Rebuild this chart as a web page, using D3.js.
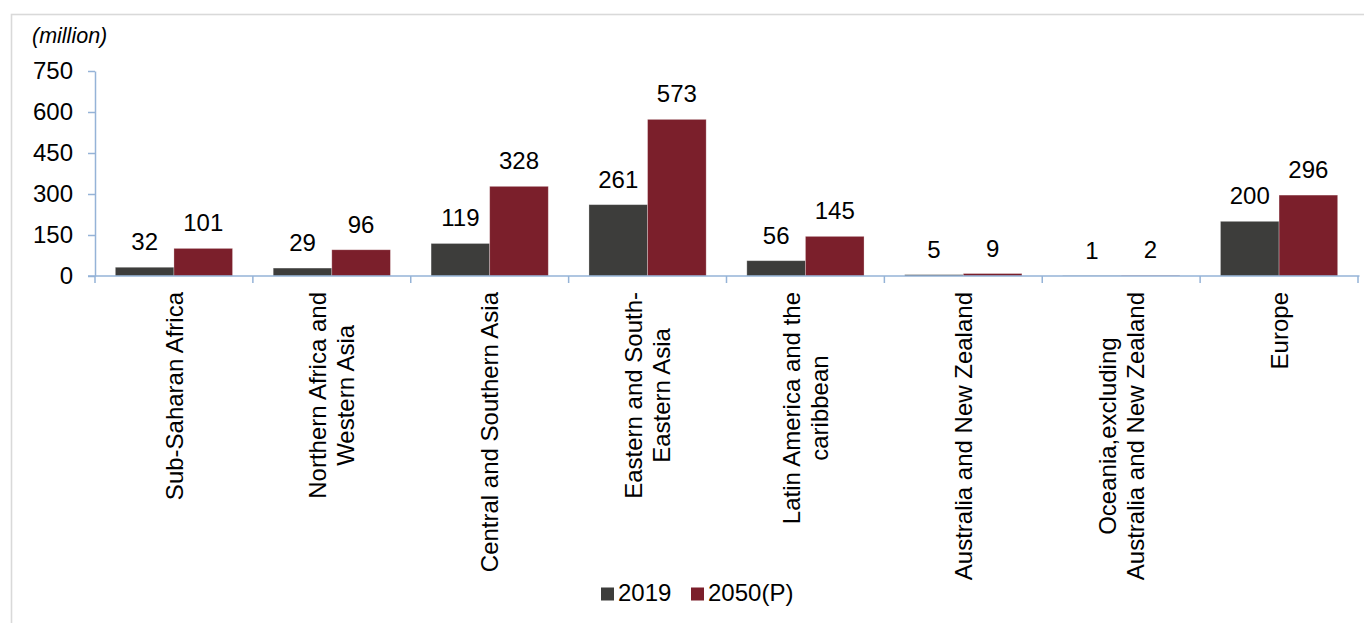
<!DOCTYPE html>
<html>
<head>
<meta charset="utf-8">
<script src="https://cdn.jsdelivr.net/npm/d3@7"></script>
<style>
  html, body { margin: 0; padding: 0; background: #fff; }
  svg { display: block; font-family: "Liberation Sans", Arial, sans-serif; }
</style>
</head>
<body>
<svg id="chart" width="1364" height="623"></svg>
<script>
// Population aged 65+ by region (million)
const regions = [
  ["Sub-Saharan Africa"],
  ["Northern Africa and", "Western Asia"],
  ["Central and Southern Asia"],
  ["Eastern and South-", "Eastern Asia"],
  ["Latin America and the", "caribbean"],
  ["Australia and New Zealand"],
  ["Oceania,excluding", "Australia and New Zealand"],
  ["Europe"]
];
const seriesNames = ["2019", "2050(P)"];
const values2019 = [32, 29, 119, 261, 56, 5, 1, 200];
const values2050 = [101, 96, 328, 573, 145, 9, 2, 296];
const yTicks = [0, 150, 300, 450, 600, 750];
const colors = ["#3d3d3b", "#7b1f2b"];

const svg = d3.select("#chart");
const FONT = 24;
const axisColor = "#95b3d7";

// frame
svg.append("rect")
  .attr("x", 11.5).attr("y", 14.5)
  .attr("width", 1400).attr("height", 700)
  .attr("fill", "none").attr("stroke", "#d9d9d9").attr("stroke-width", 1.6);

const plotLeft = 95, plotRight = 1358, plotTop = 71, plotBottom = 276;
const catIdx = regions.map((d, i) => i);

const x0 = d3.scaleBand().domain(catIdx).range([plotLeft, plotRight]).padding(0);
const x1 = d3.scaleBand().domain(seriesNames).range([0, x0.bandwidth()])
  .paddingInner(0).paddingOuter(0.347);
const y = d3.scaleLinear().domain([0, 750]).range([plotBottom, plotTop]);

const data = catIdx.map(i => ({ i, vals: [values2019[i], values2050[i]] }));

// bars
const groups = svg.append("g").selectAll("g").data(data).join("g")
  .attr("transform", d => `translate(${x0(d.i)},0)`);

groups.selectAll("rect")
  .data(d => d.vals.map((v, k) => ({ v, k })))
  .join("rect")
  .attr("x", d => x1(seriesNames[d.k]))
  .attr("y", d => y(d.v))
  .attr("width", x1.bandwidth())
  .attr("height", d => y(0) - y(d.v))
  .attr("fill", d => colors[d.k])
  .attr("stroke", "#ffffff").attr("stroke-opacity", 0.35).attr("stroke-width", 0.8);

// value labels
groups.selectAll("text.val")
  .data(d => d.vals.map((v, k) => ({ v, k })))
  .join("text")
  .attr("class", "val")
  .attr("x", d => x1(seriesNames[d.k]) + x1.bandwidth() / 2)
  .attr("y", d => y(d.v) - 17)
  .attr("text-anchor", "middle")
  .attr("font-size", FONT)
  .attr("fill", "#000")
  .text(d => d.v);

// y axis
const yAxis = svg.append("g")
  .attr("transform", `translate(${plotLeft},0)`)
  .call(d3.axisLeft(y).tickValues(yTicks).tickSize(7).tickPadding(15).tickSizeOuter(0));
yAxis.select(".domain").attr("stroke", axisColor).attr("stroke-width", 1.5);
yAxis.selectAll(".tick line").attr("stroke", axisColor).attr("stroke-width", 1.5);
yAxis.selectAll(".tick text")
  .attr("font-size", FONT).attr("fill", "#000")
  .attr("font-family", "Liberation Sans, Arial, sans-serif");

// x axis line and category boundary ticks
const xAxis = svg.append("g");
xAxis.append("line")
  .attr("x1", plotLeft - 7).attr("x2", plotRight + 1.5)
  .attr("y1", y(0)).attr("y2", y(0))
  .attr("stroke", axisColor).attr("stroke-width", 1.5);
const bounds = catIdx.map(i => x0(i)).concat([x0(catIdx.length - 1) + x0.bandwidth()]);
xAxis.selectAll("line.tk").data(bounds).join("line")
  .attr("class", "tk")
  .attr("x1", d => d).attr("x2", d => d)
  .attr("y1", y(0)).attr("y2", y(0) + 7)
  .attr("stroke", axisColor).attr("stroke-width", 1.5);

// rotated category labels
const LINE_H = 28;
const labelTop = 292;
regions.forEach((lines, i) => {
  const cx = x0(i) + x0.bandwidth() / 2;
  const g = svg.append("g").attr("transform", `translate(${cx},${labelTop}) rotate(-90)`);
  const texts = lines.map((t, k) => g.append("text")
    .attr("y", (k - (lines.length - 1) / 2) * LINE_H)
    .attr("dy", "0.36em")
    .attr("text-anchor", "middle")
    .attr("font-size", FONT)
    .attr("fill", "#000")
    .text(t));
  const maxW = d3.max(texts, t => t.node().getComputedTextLength());
  texts.forEach(t => t.attr("x", -maxW / 2));
});

// unit label
svg.append("text")
  .attr("x", 32).attr("y", 43)
  .attr("font-size", 21.5).attr("font-style", "italic").attr("fill", "#000")
  .text("(million)");

// legend
const legend = svg.append("g");
const legendItems = [{ name: seriesNames[0], x: 601 }, { name: seriesNames[1], x: 691 }];
legendItems.forEach((it, k) => {
  legend.append("rect")
    .attr("x", it.x).attr("y", 587.5).attr("width", 13).attr("height", 13)
    .attr("fill", colors[k]);
  legend.append("text")
    .attr("x", it.x + 17).attr("y", 600.7)
    .attr("font-size", FONT).attr("fill", "#000")
    .text(it.name);
});
</script>
</body>
</html>
